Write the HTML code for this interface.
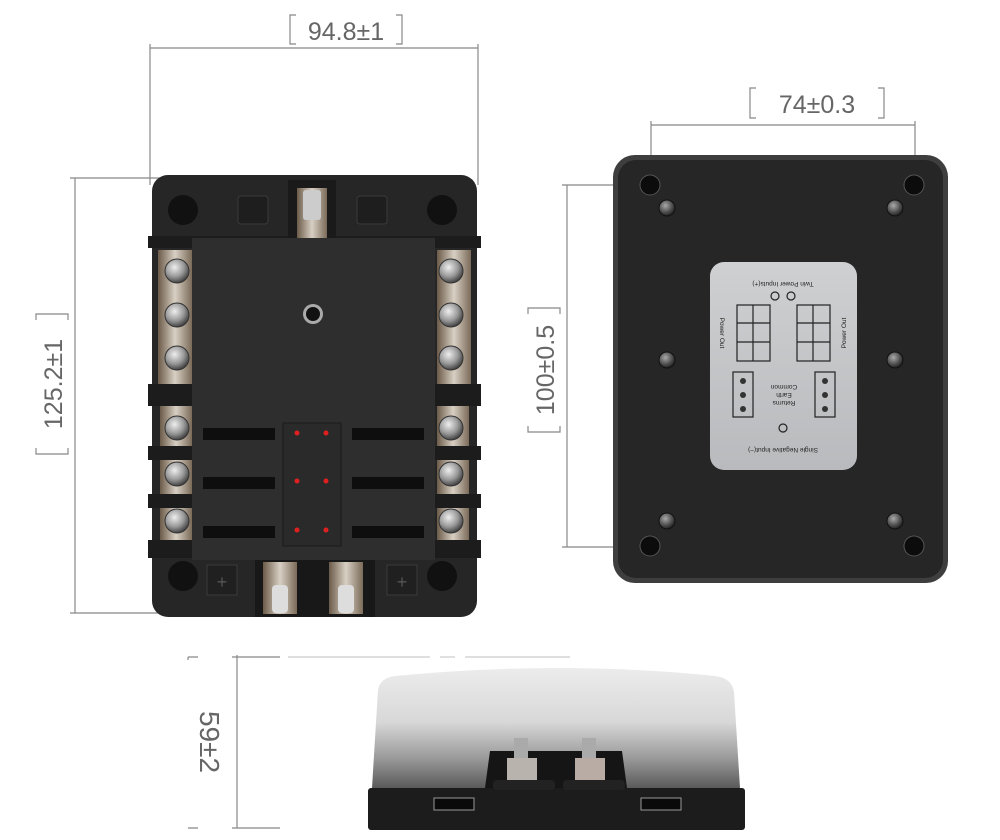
<!DOCTYPE html>
<html><head><meta charset="utf-8"><style>
html,body{margin:0;padding:0;background:#fff;}
svg{display:block}
text{font-family:"Liberation Sans",sans-serif;fill:#666}
</style></head><body>
<svg width="1000" height="840" viewBox="0 0 1000 840" xmlns="http://www.w3.org/2000/svg">
<defs>
<radialGradient id="scr" cx="40%" cy="35%" r="65%"><stop offset="0" stop-color="#eee"/><stop offset="0.6" stop-color="#999"/><stop offset="1" stop-color="#444"/></radialGradient>
<radialGradient id="scr2" cx="40%" cy="35%" r="65%"><stop offset="0" stop-color="#aaa"/><stop offset="0.6" stop-color="#555"/><stop offset="1" stop-color="#222"/></radialGradient>
<linearGradient id="rail" x1="0" x2="1"><stop offset="0" stop-color="#6b5a48"/><stop offset="0.5" stop-color="#d8d0c4"/><stop offset="1" stop-color="#7a6a58"/></linearGradient>
<linearGradient id="cov" x1="0" y1="0" x2="0" y2="1"><stop offset="0" stop-color="#ececec"/><stop offset="0.45" stop-color="#d8d8d8"/><stop offset="0.75" stop-color="#9a9a9a"/><stop offset="1" stop-color="#5a5a5a"/></linearGradient>
<linearGradient id="lbl" x1="0" y1="0" x2="0" y2="1"><stop offset="0" stop-color="#cfd0d2"/><stop offset="1" stop-color="#b8babd"/></linearGradient>
</defs>

<g stroke="#888" stroke-width="1.2" fill="none">
<line x1="150" y1="48" x2="478" y2="48"/>
<line x1="150" y1="44" x2="150" y2="185"/>
<line x1="478" y1="44" x2="478" y2="185"/>
<line x1="75" y1="178" x2="75" y2="613"/>
<line x1="70" y1="178" x2="178" y2="178"/>
<line x1="70" y1="613" x2="178" y2="613"/>
<line x1="651" y1="125" x2="915" y2="125"/>
<line x1="651" y1="121" x2="651" y2="185"/>
<line x1="915" y1="121" x2="915" y2="185"/>
<line x1="567" y1="185" x2="567" y2="547"/>
<line x1="562" y1="185" x2="650" y2="185"/>
<line x1="562" y1="547" x2="650" y2="547"/>
<line x1="237" y1="655" x2="237" y2="828"/>
<line x1="232" y1="657" x2="280" y2="657"/>
<line x1="232" y1="828" x2="280" y2="828"/>
<line x1="288" y1="657" x2="430" y2="657" stroke="#ccc"/>
<line x1="440" y1="657" x2="455" y2="657" stroke="#ccc"/>
<line x1="465" y1="657" x2="570" y2="657" stroke="#ccc"/>
<path d="M296 15 H290 V44 H296 M396 15 H402 V44 H396"/>
<path d="M756 88 H750 V118 H756 M878 88 H884 V118 H878"/>
<path d="M36 320 V314 H68 V320 M36 448 V454 H68 V448" />
<path d="M528 314 V308 H560 V314 M528 426 V432 H560 V426" />
<path d="M188 660 V657 M188 657 H198 M188 828 H198"/>
</g>
<text x="346" y="40" font-size="25" text-anchor="middle">94.8±1</text>
<text x="817" y="113" font-size="25" text-anchor="middle">74±0.3</text>
<text transform="translate(62,384) rotate(-90)" font-size="25" text-anchor="middle">125.2±1</text>
<text transform="translate(554,370) rotate(-90)" font-size="25" text-anchor="middle">100±0.5</text>
<text transform="translate(200,742) rotate(90)" font-size="28" text-anchor="middle">59±2</text>

<rect x="152" y="175" width="325" height="442" rx="16" fill="#262626"/>
<rect x="148" y="236" width="333" height="12" fill="#1c1c1c"/>
<rect x="148" y="384" width="333" height="22" fill="#1c1c1c"/>
<rect x="148" y="446" width="333" height="14" fill="#1c1c1c"/>
<rect x="148" y="494" width="333" height="14" fill="#1c1c1c"/>
<rect x="148" y="540" width="333" height="18" fill="#1c1c1c"/>
<rect x="158" y="250" width="34" height="134" fill="url(#rail)"/>
<rect x="437" y="250" width="34" height="134" fill="url(#rail)"/>
<rect x="160" y="406" width="32" height="40" fill="url(#rail)"/>
<rect x="160" y="460" width="32" height="34" fill="url(#rail)"/>
<rect x="160" y="508" width="32" height="32" fill="url(#rail)"/>
<rect x="437" y="406" width="32" height="40" fill="url(#rail)"/>
<rect x="437" y="460" width="32" height="34" fill="url(#rail)"/>
<rect x="437" y="508" width="32" height="32" fill="url(#rail)"/>
<g fill="url(#scr)" stroke="#333">
<circle cx="177" cy="271" r="12"/><circle cx="177" cy="315" r="12"/><circle cx="177" cy="358" r="12"/>
<circle cx="177" cy="428" r="12"/><circle cx="177" cy="474" r="12"/><circle cx="177" cy="521" r="12"/>
<circle cx="451" cy="271" r="12"/><circle cx="451" cy="315" r="12"/><circle cx="451" cy="358" r="12"/>
<circle cx="451" cy="428" r="12"/><circle cx="451" cy="474" r="12"/><circle cx="451" cy="521" r="12"/>
</g>
<g fill="#111"><circle cx="183" cy="210" r="15"/><circle cx="442" cy="210" r="15"/><circle cx="183" cy="576" r="15"/><circle cx="442" cy="576" r="15"/></g>
<rect x="288" y="180" width="48" height="58" fill="#1a1a1a"/>
<rect x="297" y="188" width="30" height="50" fill="url(#rail)"/>
<rect x="303" y="190" width="18" height="30" rx="3" fill="#ccc"/>
<rect x="238" y="196" width="30" height="28" rx="3" fill="#1e1e1e" stroke="#3a3a3a"/>
<rect x="357" y="196" width="30" height="28" rx="3" fill="#1e1e1e" stroke="#3a3a3a"/>
<rect x="192" y="238" width="243" height="322" fill="#2e2e2e"/>
<circle cx="313" cy="314" r="10" fill="#aaa"/><circle cx="313" cy="314" r="7" fill="#111"/>
<rect x="283" y="423" width="58" height="123" fill="#2a2a2a" stroke="#1a1a1a"/>
<g fill="#e02020"><circle cx="297" cy="433" r="2.5"/><circle cx="326" cy="433" r="2.5"/><circle cx="297" cy="481" r="2.5"/><circle cx="326" cy="481" r="2.5"/><circle cx="297" cy="530" r="2.5"/><circle cx="326" cy="530" r="2.5"/></g>
<g fill="#0e0e0e">
<rect x="203" y="428" width="72" height="12"/><rect x="203" y="477" width="72" height="12"/><rect x="203" y="526" width="72" height="12"/>
<rect x="352" y="428" width="72" height="12"/><rect x="352" y="477" width="72" height="12"/><rect x="352" y="526" width="72" height="12"/>
</g>
<rect x="255" y="560" width="120" height="57" fill="#181818"/>
<rect x="263" y="562" width="34" height="52" fill="url(#rail)"/>
<rect x="329" y="562" width="34" height="52" fill="url(#rail)"/>
<rect x="272" y="585" width="16" height="28" rx="4" fill="#ddd"/>
<rect x="338" y="585" width="16" height="28" rx="4" fill="#ddd"/>
<rect x="207" y="565" width="30" height="30" fill="#202020" stroke="#3a3a3a"/>
<rect x="387" y="565" width="30" height="30" fill="#202020" stroke="#3a3a3a"/>
<text x="222" y="588" font-size="18" text-anchor="middle" style="fill:#555">+</text>
<text x="402" y="588" font-size="18" text-anchor="middle" style="fill:#555">+</text>

<rect x="613" y="155" width="335" height="428" rx="22" fill="#3e3e3e"/>
<rect x="618" y="160" width="325" height="418" rx="18" fill="#262626"/>
<g fill="#0c0c0c" stroke="#555"><circle cx="650" cy="185" r="10"/><circle cx="914" cy="185" r="10"/><circle cx="650" cy="546" r="10"/><circle cx="914" cy="546" r="10"/></g>
<g fill="url(#scr2)" stroke="#111"><circle cx="667" cy="208" r="8"/><circle cx="895" cy="208" r="8"/><circle cx="667" cy="521" r="8"/><circle cx="895" cy="521" r="8"/><circle cx="667" cy="360" r="8"/><circle cx="895" cy="360" r="8"/></g>
<rect x="710" y="262" width="147" height="208" rx="14" fill="url(#lbl)"/>
<g fill="none" stroke="#222" stroke-width="1.2">
<circle cx="775" cy="296" r="4"/><circle cx="791" cy="296" r="4"/><circle cx="783" cy="428" r="4"/>
<rect x="737" y="305" width="33" height="56"/><rect x="797" y="305" width="33" height="56"/>
<rect x="733" y="372" width="20" height="45"/><rect x="815" y="372" width="20" height="45"/>
<path d="M737 323 H770 M737 342 H770 M797 323 H830 M797 342 H830 M753 305 V361 M813 305 V361"/>
</g>
<g fill="#333"><circle cx="743" cy="381" r="3"/><circle cx="743" cy="395" r="3"/><circle cx="743" cy="409" r="3"/><circle cx="825" cy="381" r="3"/><circle cx="825" cy="395" r="3"/><circle cx="825" cy="409" r="3"/></g>
<g font-size="6.5">
<text transform="translate(783,282) rotate(180)" text-anchor="middle" style="fill:#222">Twin Power Inputs(+)</text>
<text transform="translate(783,448) rotate(180)" text-anchor="middle" style="fill:#222">Single Negative Input(−)</text>
<text transform="translate(784,385) rotate(180)" text-anchor="middle" style="fill:#222">Common</text>
<text transform="translate(784,393) rotate(180)" text-anchor="middle" style="fill:#222">Earth</text>
<text transform="translate(784,401) rotate(180)" text-anchor="middle" style="fill:#222">Returns</text>
<text transform="translate(720,333) rotate(90)" text-anchor="middle" style="fill:#222">Power Out</text>
<text transform="translate(846,333) rotate(-90)" text-anchor="middle" style="fill:#222">Power Out</text>
</g>

<path d="M372 788 L378 690 Q380 678 395 676 Q560 660 715 676 Q732 678 734 692 L740 788 Z" fill="url(#cov)"/>
<rect x="368" y="788" width="377" height="42" rx="3" fill="#1c1c1c"/>
<path d="M485 788 L490 751 H622 L627 788 Z" fill="#151515"/>
<rect x="493" y="780" width="62" height="10" rx="4" fill="#222"/>
<rect x="563" y="780" width="62" height="10" rx="4" fill="#222"/>
<rect x="507" y="758" width="30" height="22" fill="#b8b4ad"/>
<rect x="575" y="758" width="30" height="22" fill="#b8aca5"/>
<rect x="514" y="738" width="14" height="20" fill="#aaa"/>
<rect x="582" y="738" width="14" height="20" fill="#aaa"/>
<rect x="434" y="798" width="40" height="12" fill="#0a0a0a" stroke="#999"/>
<rect x="641" y="798" width="40" height="12" fill="#0a0a0a" stroke="#999"/>
</svg>
</body></html>
